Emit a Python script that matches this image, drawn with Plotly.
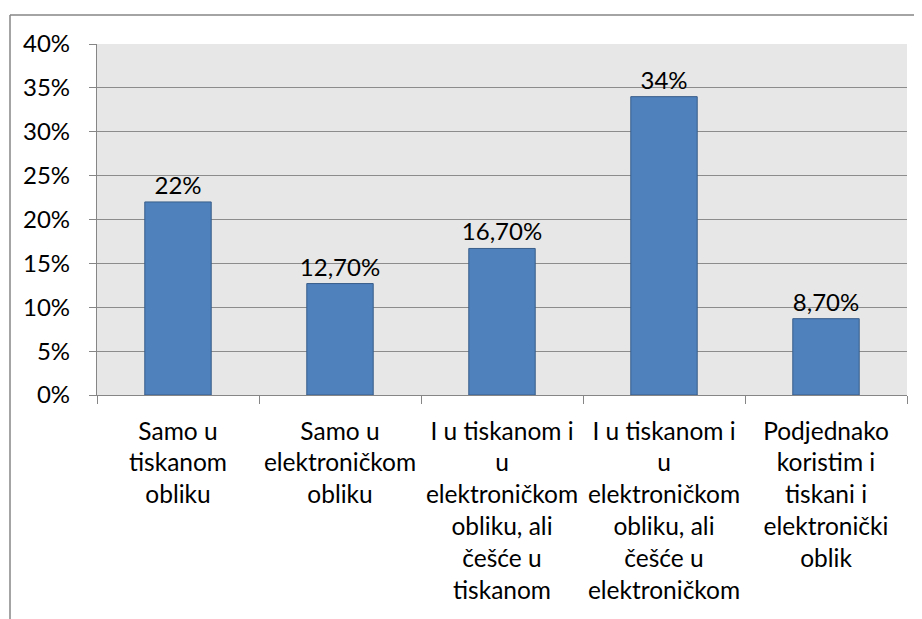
import plotly.graph_objects as go

categories = [
    "Samo u<br>tiskanom<br>obliku",
    "Samo u<br>elektroničkom<br>obliku",
    "I u tiskanom i<br>u<br>elektroničkom<br>obliku, ali<br>češće u<br>tiskanom",
    "I u tiskanom i<br>u<br>elektroničkom<br>obliku, ali<br>češće u<br>elektroničkom",
    "Podjednako<br>koristim i<br>tiskani i<br>elektronički<br>oblik",
]
values = [0.22, 0.127, 0.167, 0.34, 0.087]
value_labels = ["22%", "12,70%", "16,70%", "34%", "8,70%"]

FONT = "Lato"
GRAY = "#868686"

fig = go.Figure(
    go.Bar(
        x=categories,
        y=values,
        text=value_labels,
        textposition="outside",
        constraintext="none",
        cliponaxis=False,
        textfont=dict(family=FONT, size=24, color="black"),
        marker=dict(color="#4F81BD", line=dict(color="#385D8A", width=1)),
        hoverinfo="skip",
    )
)

fig.update_layout(
    width=922,
    height=619,
    margin=dict(l=89, r=23, t=36, b=232),
    paper_bgcolor="white",
    plot_bgcolor="#E7E7E7",
    bargap=0.59,
    showlegend=False,
    font=dict(family=FONT, size=24, color="black"),
    shapes=[
        dict(type="line", xref="paper", yref="paper",
             x0=-0.1074, x1=1.05, y0=1.0826, y1=1.0826,
             line=dict(color=GRAY, width=1.5)),
        dict(type="line", xref="paper", yref="paper",
             x0=-0.1074, x1=-0.1074, y0=1.0826, y1=-0.68,
             line=dict(color=GRAY, width=1.5)),
    ],
)

fig.update_yaxes(
    range=[0, 0.4],
    dtick=0.05,
    tickformat=".0%",
    showgrid=True,
    gridcolor="#8C8C8C",
    gridwidth=1.3,
    showline=True,
    linecolor=GRAY,
    linewidth=1.3,
    ticks="outside",
    ticklen=7,
    tickcolor=GRAY,
    tickfont=dict(family=FONT, size=24, color="black"),
    ticklabelstandoff=14,
    zeroline=False,
)

fig.update_xaxes(
    showline=True,
    linecolor=GRAY,
    linewidth=1.3,
    ticks="outside",
    tickson="boundaries",
    ticklen=8,
    tickcolor=GRAY,
    tickfont=dict(family=FONT, size=24.5, color="black"),
    ticklabelstandoff=14,
    tickangle=0,
)

fig.write_html("out.html")
